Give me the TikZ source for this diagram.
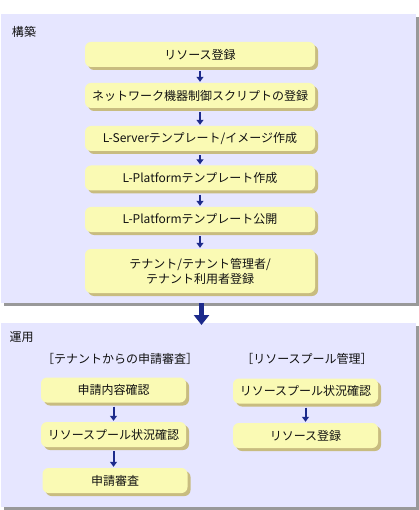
\documentclass[tikz,border=0pt]{standalone}
\usepackage{fontspec}
\setmainfont{Noto Sans CJK JP}
\usepackage{xcolor}
\usetikzlibrary{shadows,arrows.meta,calc}
\definecolor{panelfill}{HTML}{E6E6FF}
\definecolor{panelshade}{HTML}{999999}
\definecolor{boxfill}{HTML}{FAFAB4}
\definecolor{boxshade}{HTML}{C8BC80}
\definecolor{flowblue}{HTML}{1C2A8C}
\definecolor{txt}{HTML}{111111}

\tikzset{
  panel/.style={anchor=north west, fill=panelfill, inner sep=0pt, minimum width=415pt,
    drop shadow={shadow xshift=3pt, shadow yshift=-3pt, fill=panelshade, opacity=1}},
  stepbox/.style={rounded corners=6pt, fill=boxfill, inner sep=0pt, minimum height=25pt,
    align=center, text=txt, font=\fontsize{12}{15}\selectfont,
    drop shadow={shadow xshift=3pt, shadow yshift=-3pt, fill=boxshade, opacity=1}},
  flow/.style={flowblue, line width=2pt, -{Triangle[width=7pt,length=5pt]},
    shorten <=4pt, shorten >=1pt},
  bigflow/.style={flowblue, line width=5pt, -{Triangle[width=15pt,length=10pt]}},
  heading/.style={inner sep=0pt, text=txt, font=\fontsize{12}{14}\selectfont}
}

\begin{document}
\begin{tikzpicture}[x=1pt, y=-1pt]
        \useasboundingbox (0,0) rectangle (419,510);

        % panels
        \node[panel, minimum height=289pt] (build) at (1,14) {};
        \node[panel, minimum height=184pt] (opr) at (1,323) {};
        \node[heading] (buildlbl) at (24,32) {構築};
        \node[heading] (oprlbl) at (21.5,337) {運用};

        % build steps
        \node[stepbox, minimum width=230pt] (b1) at (200,54.5) {リソース登録};
        \node[stepbox, minimum width=230pt] (b2) at (200,95.5) {ネットワーク機器制御スクリプトの登録};
        \node[stepbox, minimum width=230pt] (b3) at (200,138.5) {L-Serverテンプレート/イメージ作成};
        \node[stepbox, minimum width=230pt] (b4) at (200,178) {L-Platformテンプレート作成};
        \node[stepbox, minimum width=230pt] (b5) at (200,219.5) {L-Platformテンプレート公開};
        \node[stepbox, minimum width=230pt, minimum height=44pt] (b6) at (200,271)
            {テナント/テナント管理者/\\テナント利用者登録};
        \draw[flow] (b1) -- (b2);
        \draw[flow] (b2) -- (b3);
        \draw[flow] (b3) -- (b4);
        \draw[flow] (b4) -- (b5);
        \draw[flow] (b5) -- (b6);

        % build -> operation
        \draw[bigflow] ($(b6 |- build.south)+(1.5,0)$) -- ($(b6 |- opr.north)+(1.5,2)$);

        % operation: tenant requests
        \node[heading] (reqlbl) at (120,359) {［テナントからの申請審査］};
        \node[stepbox, minimum width=145pt] (r1) at (113.5,390) {申請内容確認};
        \node[stepbox, minimum width=145pt] (r2) at (113.5,434.5) {リソースプール状況確認};
        \node[stepbox, minimum width=145pt] (r3) at (115,480.5) {申請審査};
        \draw[flow] (r1) -- (r1 |- r2.north);
        \draw[flow] (r2) -- (r2 |- r3.north);

        % operation: resource pool
        \node[heading] (poollbl) at (307,359) {［リソースプール管理］};
        \node[stepbox, minimum width=145pt] (p1) at (305.5,391) {リソースプール状況確認};
        \node[stepbox, minimum width=145pt] (p2) at (305.5,435.5) {リソース登録};
        \draw[flow] (p1) -- (p2);
\end{tikzpicture}
\end{document}
